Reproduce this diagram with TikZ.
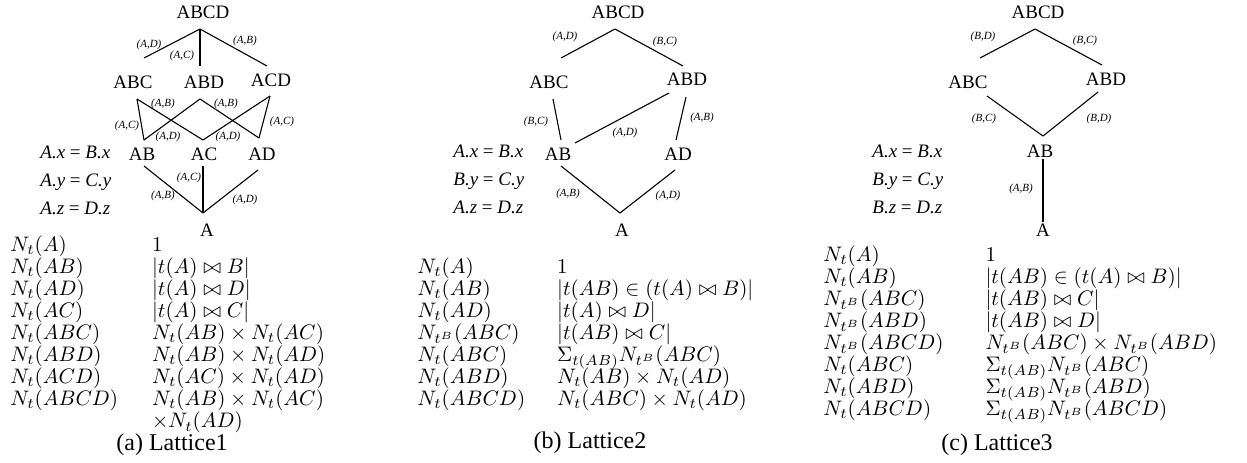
\RequirePackage{fix-cm}
\documentclass[tikz,border=0pt]{standalone}
\usepackage{amsmath,amssymb}
\usepackage[no-math]{fontspec}
\setmainfont{Liberation Serif}
\usepackage{tikz}
\usetikzlibrary{positioning}
\renewcommand{\arraystretch}{0.87}

\tikzset{
  latnode/.style={inner sep=0pt, font=\fontsize{9.5}{11}\selectfont},
  edgelbl/.style={inner sep=0pt, font=\fontsize{5.5}{6}\selectfont\itshape},
  eqn/.style={anchor=base west, inner sep=0pt, font=\fontsize{9.5}{11}\selectfont},
  latedge/.style={line width=0.55pt},
  cnttab/.style={anchor=base west, inner sep=0pt, font=\fontsize{10.5}{12.2}\selectfont},
  captn/.style={inner sep=0pt, font=\fontsize{12}{14}\selectfont}
}

\begin{document}
\begin{tikzpicture}[x=0.5pt,y=-0.5pt]
  \useasboundingbox (0,0) rectangle (1247,462);

  % (a) Lattice1
  \node[latnode] (a-abcd) at (203,12) {ABCD};
  \node[latnode] (a-abc) at (133,82) {ABC};
  \node[latnode] (a-abd) at (204,82) {ABD};
  \node[latnode] (a-acd) at (271,80) {ACD};
  \node[latnode] (a-ab) at (142,154) {AB};
  \node[latnode] (a-ac) at (204,154) {AC};
  \node[latnode] (a-ad) at (262,154) {AD};
  \node[latnode] (a-a) at (207,230) {A};

  \draw[latedge] ([shift={(-3,17)}]a-abcd.center) -- ([shift={(11,-24)}]a-abc.center);
  \draw[latedge] ([shift={(-3,17)}]a-abcd.center) -- ([shift={(-4,-16)}]a-abd.center);
  \draw[latedge] ([shift={(-3,17)}]a-abcd.center) -- ([shift={(-4,-14)}]a-acd.center);
  \draw[latedge] ([shift={(4,17)}]a-abc.center) -- ([shift={(2,-14)}]a-ab.center);
  \draw[latedge] ([shift={(4,17)}]a-abc.center) -- ([shift={(-1,-14)}]a-ac.center);
  \draw[latedge] ([shift={(-4,17)}]a-abd.center) -- ([shift={(2,-14)}]a-ab.center);
  \draw[latedge] ([shift={(-4,17)}]a-abd.center) -- ([shift={(-3,-16)}]a-ad.center);
  \draw[latedge] ([shift={(-1,16)}]a-acd.center) -- ([shift={(-1,-14)}]a-ac.center);
  \draw[latedge] ([shift={(-1,16)}]a-acd.center) -- ([shift={(-3,-16)}]a-ad.center);
  \draw[latedge] ([shift={(2,12)}]a-ab.center) -- ([shift={(-4,-17)}]a-a.center);
  \draw[latedge] ([shift={(-1,12)}]a-ac.center) -- ([shift={(-4,-17)}]a-a.center);
  \draw[latedge] ([shift={(-4,16)}]a-ad.center) -- ([shift={(-4,-17)}]a-a.center);

  \node[edgelbl] (a-l1) at (149,45) {(A,D)};
  \node[edgelbl] (a-l2) at (182,56) {(A,C)};
  \node[edgelbl] (a-l3) at (245,41) {(A,B)};
  \node[edgelbl] (a-l4) at (163,104) {(A,B)};
  \node[edgelbl] (a-l5) at (226,104) {(A,B)};
  \node[edgelbl] (a-l6) at (127,126) {(A,C)};
  \node[edgelbl] (a-l7) at (168,137) {(A,D)};
  \node[edgelbl] (a-l8) at (228,137) {(A,D)};
  \node[edgelbl] (a-l9) at (282,122) {(A,C)};
  \node[edgelbl] (a-l10) at (189,178) {(A,C)};
  \node[edgelbl] (a-l11) at (163,196) {(A,B)};
  \node[edgelbl] (a-l12) at (245,200) {(A,D)};

  \node[eqn] (a-eq1) at (40,158) {\textit{A.x} = \textit{B.x}};
  \node[eqn] (a-eq2) at (40,186) {\textit{A.y} = \textit{C.y}};
  \node[eqn] (a-eq3) at (40,214) {\textit{A.z} = \textit{D.z}};

  \node[cnttab] (a-tab) at (10,251) {%
    \begin{tabular}[t]{@{}l@{\hspace{17pt}}l@{}}
      $N_t(A)$ & $1$\\
      $N_t(AB)$ & $|t(A)\bowtie B|$\\
      $N_t(AD)$ & $|t(A)\bowtie D|$\\
      $N_t(AC)$ & $|t(A)\bowtie C|$\\
      $N_t(ABC)$ & $N_t(AB)\times N_t(AC)$\\
      $N_t(ABD)$ & $N_t(AB)\times N_t(AD)$\\
      $N_t(ACD)$ & $N_t(AC)\times N_t(AD)$\\
      $N_t(ABCD)$ & $N_t(AB)\times N_t(AC)$\\
      & $\times N_t(AD)$
    \end{tabular}};
  \node[captn] (a-cap) at (172,445) {(a) Lattice1};

  % (b) Lattice2
  \node[latnode] (b-abcd) at (618,12) {ABCD};
  \node[latnode] (b-abc) at (549,82) {ABC};
  \node[latnode] (b-abd) at (687,79) {ABD};
  \node[latnode] (b-ab) at (558,154) {AB};
  \node[latnode] (b-ad) at (678,154) {AD};
  \node[latnode] (b-a) at (622,230) {A};

  \draw[latedge] ([shift={(-3,17)}]b-abcd.center) -- ([shift={(12,-24)}]b-abc.center);
  \draw[latedge] ([shift={(-3,17)}]b-abcd.center) -- ([shift={(-4,-13)}]b-abd.center);
  \draw[latedge] ([shift={(4,17)}]b-abc.center) -- ([shift={(3,-14)}]b-ab.center);
  \draw[latedge] ([shift={(-18,14)}]b-abd.center) -- ([shift={(17,-11)}]b-ab.center);
  \draw[latedge] ([shift={(-1,18)}]b-abd.center) -- ([shift={(-2,-14)}]b-ad.center);
  \draw[latedge] ([shift={(3,12)}]b-ab.center) -- ([shift={(-2,-17)}]b-a.center);
  \draw[latedge] ([shift={(-3,16)}]b-ad.center) -- ([shift={(-2,-17)}]b-a.center);

  \node[edgelbl] (b-l1) at (565,37) {(A,D)};
  \node[edgelbl] (b-l2) at (665,42) {(B,C)};
  \node[edgelbl] (b-l3) at (536,122) {(B,C)};
  \node[edgelbl] (b-l4) at (625,133) {(A,D)};
  \node[edgelbl] (b-l5) at (702,118) {(A,B)};
  \node[edgelbl] (b-l6) at (568,194) {(A,B)};
  \node[edgelbl] (b-l7) at (668,196) {(A,D)};

  \node[eqn] (b-eq1) at (453,157) {\textit{A.x} = \textit{B.x}};
  \node[eqn] (b-eq2) at (453,185) {\textit{B.y} = \textit{C.y}};
  \node[eqn] (b-eq3) at (453,213) {\textit{A.z} = \textit{D.z}};

  \node[cnttab] (b-tab) at (417,273) {%
    \begin{tabular}[t]{@{}l@{\hspace{16pt}}l@{}}
      $N_t(A)$ & $1$\\
      $N_t(AB)$ & $|t(AB)\in(t(A)\bowtie B)|$\\
      $N_t(AD)$ & $|t(A)\bowtie D|$\\
      $N_{t^B}(ABC)$ & $|t(AB)\bowtie C|$\\
      $N_t(ABC)$ & $\smash[b]{\Sigma_{t(AB)}}N_{t^B}(ABC)$\\
      $N_t(ABD)$ & $N_t(AB)\times N_t(AD)$\\
      $N_t(ABCD)$ & $N_t(ABC)\times N_t(AD)$
    \end{tabular}};
  \node[captn] (b-cap) at (590,443) {(b) Lattice2};

  % (c) Lattice3
  \node[latnode] (c-abcd) at (1038,12) {ABCD};
  \node[latnode] (c-abc) at (968,82) {ABC};
  \node[latnode] (c-abd) at (1106,79) {ABD};
  \node[latnode] (c-ab) at (1040,151) {AB};
  \node[latnode] (c-a) at (1043,230) {A};

  \draw[latedge] ([shift={(-3,17)}]c-abcd.center) -- ([shift={(12,-24)}]c-abc.center);
  \draw[latedge] ([shift={(-3,17)}]c-abcd.center) -- ([shift={(-4,-14)}]c-abd.center);
  \draw[latedge] ([shift={(19,14)}]c-abc.center) -- ([shift={(3,-15)}]c-ab.center);
  \draw[latedge] ([shift={(-8,13)}]c-abd.center) -- ([shift={(3,-15)}]c-ab.center);
  \draw[latedge] ([shift={(3,8)}]c-ab.center) -- ([shift={(0,-8)}]c-a.center);

  \node[edgelbl] (c-l1) at (983,37) {(B,D)};
  \node[edgelbl] (c-l2) at (1085,41) {(B,C)};
  \node[edgelbl] (c-l3) at (984,119) {(B,C)};
  \node[edgelbl] (c-l4) at (1099,119) {(B,D)};
  \node[edgelbl] (c-l5) at (1021,189) {(A,B)};

  \node[eqn] (c-eq1) at (872,157) {\textit{A.x} = \textit{B.x}};
  \node[eqn] (c-eq2) at (872,185) {\textit{B.y} = \textit{C.y}};
  \node[eqn] (c-eq3) at (872,213) {\textit{B.z} = \textit{D.z}};

  \node[cnttab] (c-tab) at (823,261) {%
    \begin{tabular}[t]{@{}l@{\hspace{21pt}}l@{}}
      $N_t(A)$ & $1$\\
      $N_t(AB)$ & $|t(AB)\in(t(A)\bowtie B)|$\\
      $N_{t^B}(ABC)$ & $|t(AB)\bowtie C|$\\
      $N_{t^B}(ABD)$ & $|t(AB)\bowtie D|$\\
      $N_{t^B}(ABCD)$ & $N_{t^B}(ABC)\times N_{t^B}(ABD)$\\
      $N_t(ABC)$ & $\smash[b]{\Sigma_{t(AB)}}N_{t^B}(ABC)$\\
      $N_t(ABD)$ & $\smash[b]{\Sigma_{t(AB)}}N_{t^B}(ABD)$\\
      $N_t(ABCD)$ & $\smash[b]{\Sigma_{t(AB)}}N_{t^B}(ABCD)$
    \end{tabular}};
  \node[captn] (c-cap) at (997,445) {(c) Lattice3};
\end{tikzpicture}
\end{document}
